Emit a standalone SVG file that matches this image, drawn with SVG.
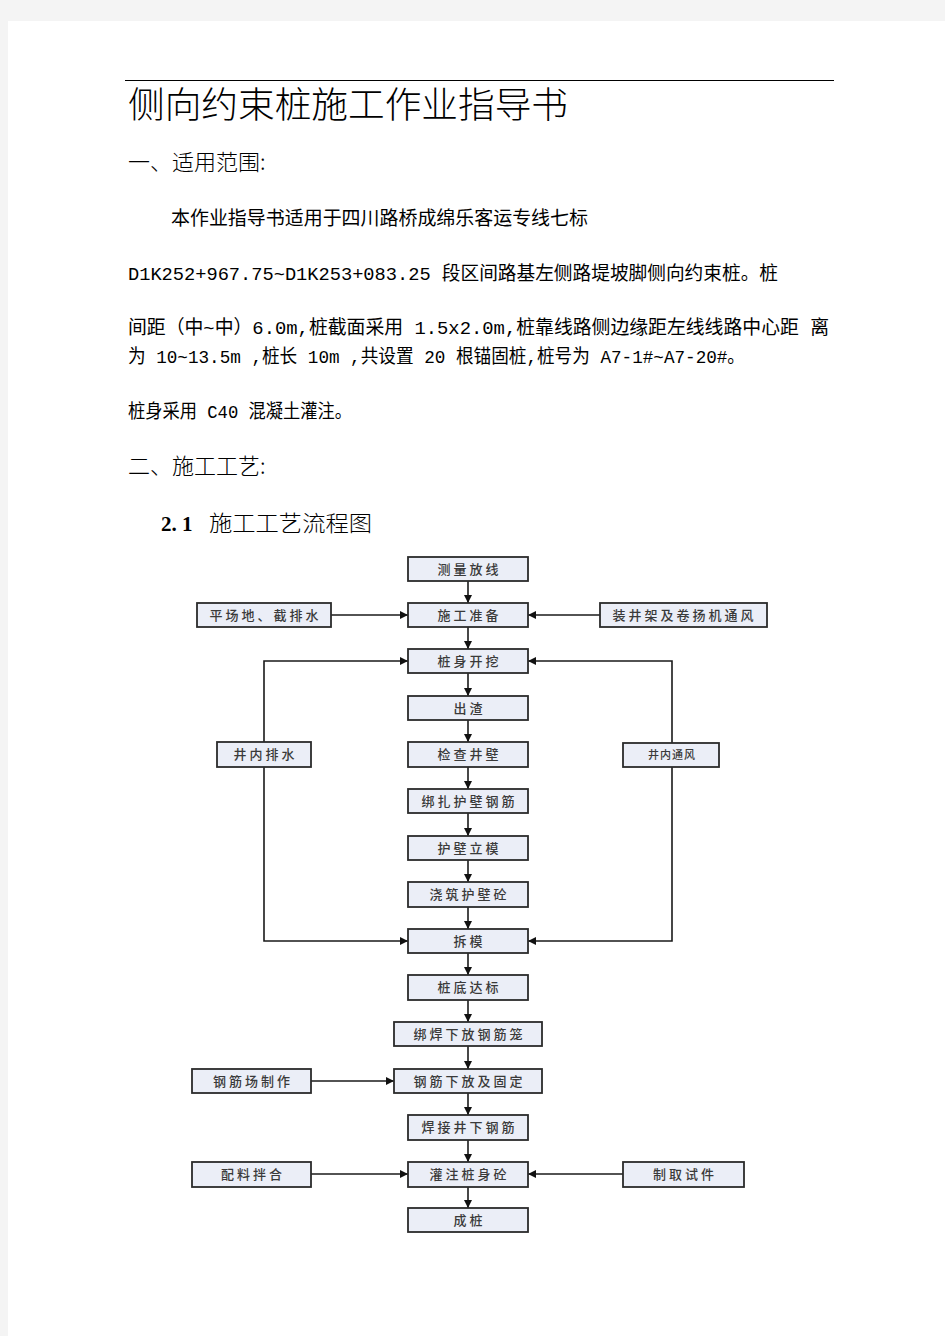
<svg xmlns="http://www.w3.org/2000/svg" width="945" height="1336" viewBox="0 0 945 1336">
<defs>
<marker id="ah" markerUnits="userSpaceOnUse" markerWidth="9" markerHeight="8" refX="8" refY="4" orient="auto">
<path d="M0,0 L8,4 L0,8 Z" fill="#111"/>
</marker>
<style>
.cjk{font-family:"Noto Sans CJK SC",sans-serif;fill:#000}
.light{font-weight:300}
.body{font-family:"Liberation Mono","Noto Sans CJK SC",monospace;font-size:19px;fill:#000}
.box rect{fill:#ebeef7;stroke:#2b2b2b;stroke-width:1.8}
.box text{font-family:"Noto Sans CJK SC",sans-serif;font-size:13px;font-weight:500;fill:#3a3a3a;text-anchor:middle;letter-spacing:3px}
.conn path{fill:none;stroke:#1a1a1a;stroke-width:1.6;marker-end:url(#ah)}
</style>
</defs>
<rect x="0" y="0" width="945" height="1336" fill="#f4f4f4"/>
<rect x="8" y="21" width="937" height="1315" fill="#ffffff"/>
<line x1="125" y1="80.5" x2="834" y2="80.5" stroke="#000" stroke-width="1.2"/>
<text class="cjk light" x="128" y="118" font-size="36" textLength="440" lengthAdjust="spacingAndGlyphs">侧向约束桩施工作业指导书</text>
<text class="cjk light" x="128" y="170" font-size="22">一、适用范围:</text>
<text class="body" x="171" y="225" textLength="417" lengthAdjust="spacingAndGlyphs">本作业指导书适用于四川路桥成绵乐客运专线七标</text>
<text class="body" x="128" y="280" textLength="650" lengthAdjust="spacingAndGlyphs">D1K252+967.75~D1K253+083.25 段区间路基左侧路堤坡脚侧向约束桩。桩</text>
<text class="body" x="128" y="334" textLength="701" lengthAdjust="spacingAndGlyphs">间距（中~中）6.0m,桩截面采用 1.5x2.0m,桩靠线路侧边缘距左线线路中心距 离</text>
<text class="body" x="128" y="363" textLength="617" lengthAdjust="spacingAndGlyphs">为 10~13.5m ,桩长 10m ,共设置 20 根锚固桩,桩号为 A7-1#~A7-20#。</text>
<text class="body" x="128" y="418" textLength="224" lengthAdjust="spacingAndGlyphs">桩身采用 C40 混凝土灌注。</text>
<text class="cjk light" x="128" y="474" font-size="22">二、施工工艺:</text>
<text x="161" y="531" font-family="Liberation Serif,serif" font-size="21" font-weight="bold">2. 1</text>
<text class="cjk light" x="209" y="531" font-size="22" textLength="163" lengthAdjust="spacingAndGlyphs">施工工艺流程图</text>

<g class="conn">
<path d="M468,581 V603"/>
<path d="M331,615 H408"/>
<path d="M600,615 H528"/>
<path d="M468,627 V649"/>
<path d="M468,673 V696"/>
<path d="M468,720 V742"/>
<path d="M468,767 V789"/>
<path d="M468,813 V836"/>
<path d="M468,860 V882"/>
<path d="M468,907 V929"/>
<path d="M468,953 V975"/>
<path d="M468,1000 V1022"/>
<path d="M468,1046 V1069"/>
<path d="M311,1081 H394"/>
<path d="M468,1093 V1115"/>
<path d="M468,1140 V1162"/>
<path d="M311,1174 H408"/>
<path d="M623,1174 H528"/>
<path d="M468,1187 V1208"/>
<path d="M264,742 V661 H408"/>
<path d="M264,767 V941 H408"/>
<path d="M672,743 V661 H528"/>
<path d="M672,767 V941 H528"/>
</g>

<g id="n1" class="box"><rect x="408" y="557" width="120" height="24"/><text x="469.5" y="573.5">测量放线</text></g>
<g id="n2" class="box"><rect x="408" y="603" width="120" height="24"/><text x="469.5" y="619.5">施工准备</text></g>
<g id="n3" class="box"><rect x="197" y="603" width="134" height="24"/><text x="265.5" y="619.5">平场地、截排水</text></g>
<g id="n4" class="box"><rect x="600" y="603" width="167" height="24"/><text x="684.5" y="619.5">装井架及卷扬机通风</text></g>
<g id="n5" class="box"><rect x="408" y="649" width="120" height="24"/><text x="469.5" y="665.5">桩身开挖</text></g>
<g id="n6" class="box"><rect x="408" y="696" width="120" height="24"/><text x="469.5" y="712.5">出渣</text></g>
<g id="n7" class="box"><rect x="408" y="742" width="120" height="25"/><text x="469.5" y="759">检查井壁</text></g>
<g id="n8" class="box"><rect x="217" y="742" width="94" height="25"/><text x="265.5" y="759">井内排水</text></g>
<g id="n9" class="box"><rect x="623" y="743" width="96" height="24"/><text x="672" y="759" style="font-size:11px;letter-spacing:1px">井内通风</text></g>
<g id="n10" class="box"><rect x="408" y="789" width="120" height="24"/><text x="469.5" y="805.5">绑扎护壁钢筋</text></g>
<g id="n11" class="box"><rect x="408" y="836" width="120" height="24"/><text x="469.5" y="852.5">护壁立模</text></g>
<g id="n12" class="box"><rect x="408" y="882" width="120" height="25"/><text x="469.5" y="899">浇筑护壁砼</text></g>
<g id="n13" class="box"><rect x="408" y="929" width="120" height="24"/><text x="469.5" y="945.5">拆模</text></g>
<g id="n14" class="box"><rect x="408" y="975" width="120" height="25"/><text x="469.5" y="992">桩底达标</text></g>
<g id="n15" class="box"><rect x="394" y="1022" width="148" height="24"/><text x="469.5" y="1038.5">绑焊下放钢筋笼</text></g>
<g id="n16" class="box"><rect x="192" y="1069" width="119" height="24"/><text x="253" y="1085.5">钢筋场制作</text></g>
<g id="n17" class="box"><rect x="394" y="1069" width="148" height="24"/><text x="469.5" y="1085.5">钢筋下放及固定</text></g>
<g id="n18" class="box"><rect x="408" y="1115" width="120" height="25"/><text x="469.5" y="1132">焊接井下钢筋</text></g>
<g id="n19" class="box"><rect x="192" y="1162" width="119" height="25"/><text x="253" y="1179">配料拌合</text></g>
<g id="n20" class="box"><rect x="408" y="1162" width="120" height="25"/><text x="469.5" y="1179">灌注桩身砼</text></g>
<g id="n21" class="box"><rect x="623" y="1162" width="121" height="25"/><text x="685" y="1179">制取试件</text></g>
<g id="n22" class="box"><rect x="408" y="1208" width="120" height="24"/><text x="469.5" y="1224.5">成桩</text></g>
</svg>
